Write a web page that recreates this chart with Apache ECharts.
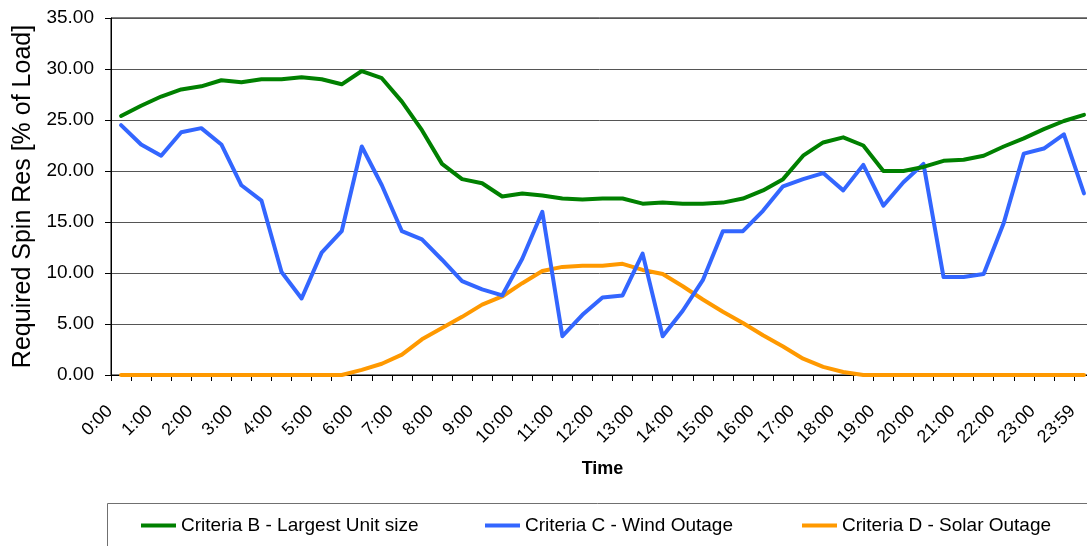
<!DOCTYPE html>
<html>
<head>
<meta charset="utf-8">
<script src="https://cdn.jsdelivr.net/npm/echarts@6/dist/echarts.min.js"></script>
<style>
  html, body { margin: 0; padding: 0; background: #fff; }
  #chart { width: 1087px; height: 546px; }
</style>
</head>
<body>
<div id="chart"></div>
<script>
// Half-hourly time slots across the day
const times = [
  '0:00','0:30','1:00','1:30','2:00','2:30','3:00','3:30','4:00','4:30',
  '5:00','5:30','6:00','6:30','7:00','7:30','8:00','8:30','9:00','9:30',
  '10:00','10:30','11:00','11:30','12:00','12:30','13:00','13:30','14:00','14:30',
  '15:00','15:30','16:00','16:30','17:00','17:30','18:00','18:30','19:00','19:30',
  '20:00','20:30','21:00','21:30','22:00','22:30','23:00','23:30','23:59'
];

// Required spinning reserve, % of load
const criteriaB = [
  25.4, 26.4, 27.3, 28.0, 28.3, 28.9, 28.7, 29.0, 29.0, 29.2,
  29.0, 28.5, 29.8, 29.1, 26.8, 24.0, 20.7, 19.2, 18.8, 17.5,
  17.8, 17.6, 17.3, 17.2, 17.3, 17.3, 16.8, 16.9, 16.8, 16.8,
  16.9, 17.3, 18.1, 19.2, 21.5, 22.8, 23.3, 22.5, 20.0, 20.0,
  20.4, 21.0, 21.1, 21.5, 22.4, 23.2, 24.1, 24.9, 25.5
];
const criteriaC = [
  24.5, 22.6, 21.5, 23.8, 24.2, 22.6, 18.6, 17.1, 10.1, 7.5,
  12.0, 14.1, 22.4, 18.6, 14.1, 13.3, 11.3, 9.2, 8.4, 7.8,
  11.4, 16.0, 3.8, 5.9, 7.6, 7.8, 11.9, 3.8, 6.3, 9.3,
  14.1, 14.1, 16.1, 18.5, 19.2, 19.8, 18.1, 20.6, 16.6, 18.9,
  20.7, 9.6, 9.6, 9.9, 14.9, 21.7, 22.2, 23.6, 17.8
];
const criteriaD = [
  0, 0, 0, 0, 0, 0, 0, 0, 0, 0,
  0, 0, 0.5, 1.1, 2.0, 3.5, 4.6, 5.7, 6.9, 7.7,
  9.0, 10.2, 10.6, 10.7, 10.7, 10.9, 10.3, 9.9, 8.7, 7.4,
  6.2, 5.1, 3.9, 2.8, 1.6, 0.8, 0.3, 0, 0, 0,
  0, 0, 0, 0, 0, 0, 0, 0, 0
];

const seriesNames = [
  'Criteria B - Largest Unit size',
  'Criteria C - Wind Outage',
  'Criteria D - Solar Outage'
];
const seriesColors = ['#008000', '#3366ff', '#ff9900'];
const seriesData = [criteriaB, criteriaC, criteriaD];

const FONT = '"Liberation Sans", Arial, sans-serif';

const chart = echarts.init(document.getElementById('chart'), null, { renderer: 'canvas' });

const legendLefts = [141, 485, 802];

chart.setOption({
  animation: false,
  backgroundColor: '#ffffff',
  textStyle: { fontFamily: FONT },
  graphic: [{
    type: 'rect',
    shape: { x: 107.5, y: 503.5, width: 1000, height: 80 },
    style: { fill: 'none', stroke: '#707070', lineWidth: 1 },
    silent: true
  }],
  legend: seriesNames.map((name, i) => ({
    data: [name],
    left: legendLefts[i],
    top: 516,
    icon: 'rect',
    itemWidth: 35,
    itemHeight: 4,
    padding: 0,
    selectedMode: false,
    textStyle: { fontSize: 19, color: '#000', fontFamily: FONT }
  })),
  grid: {
    left: 111,
    top: 18,
    width: 983,
    height: 357,
    containLabel: false,
    outerBoundsMode: 'none',
    show: true,
    borderColor: '#000',
    borderWidth: 1
  },
  xAxis: {
    type: 'category',
    data: times,
    boundaryGap: true,
    name: 'Time',
    nameLocation: 'middle',
    nameGap: 85,
    nameTextStyle: { fontSize: 18, fontWeight: 'bold', color: '#000', fontFamily: FONT },
    axisLine: { lineStyle: { color: '#000', width: 1 } },
    axisTick: { show: true, interval: 0, length: 6, lineStyle: { color: '#000' } },
    axisLabel: {
      interval: 1,
      rotate: 45,
      margin: 22,
      padding: [0, 16, 0, 0],
      fontSize: 18,
      color: '#000',
      fontFamily: FONT
    },
    splitLine: { show: false }
  },
  yAxis: {
    type: 'value',
    min: 0,
    max: 35,
    interval: 5,
    name: 'Required Spin Res [% of Load]',
    nameLocation: 'middle',
    nameGap: 75,
    nameTextStyle: { fontSize: 25, color: '#000', fontFamily: FONT },
    axisLine: { show: true, lineStyle: { color: '#000', width: 1 } },
    axisTick: { show: true, length: 6, lineStyle: { color: '#000' } },
    axisLabel: {
      fontSize: 19,
      color: '#000',
      margin: 17,
      fontFamily: FONT,
      formatter: v => v.toFixed(2)
    },
    splitLine: { show: true, lineStyle: { color: '#555', width: 1 } }
  },
  series: seriesNames.map((name, i) => ({
    name: name,
    type: 'line',
    data: seriesData[i],
    symbol: 'none',
    color: seriesColors[i],
    lineStyle: { width: 4, color: seriesColors[i], cap: 'round', join: 'round' },
    z: 3 - i
  }))
});
</script>
</body>
</html>
